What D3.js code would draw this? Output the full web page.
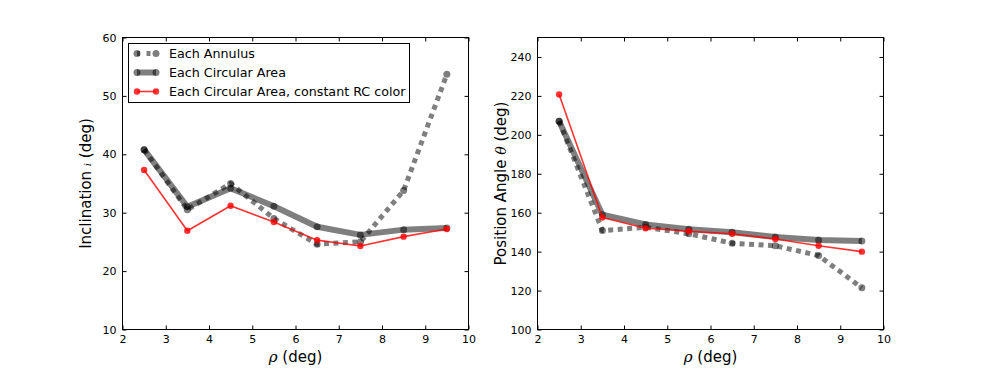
<!DOCTYPE html>
<html>
<head>
<meta charset="utf-8">
<script src="https://cdn.jsdelivr.net/npm/d3@7"></script>
<style>
  body { margin: 0; background: #fff; }
  svg { font-family: "DejaVu Sans", sans-serif; }
</style>
</head>
<body>
<div id="chart"></div>
<script>
// radius bins (deg)
const rho = [2.5, 3.5, 4.5, 5.5, 6.5, 7.5, 8.5, 9.5];

// inclination (deg)
const incAnnulus  = [40.8, 30.5, 35.0, 29.0, 24.6, 25.0, 33.8, 53.7];
const incCircular = [40.8, 31.0, 34.2, 31.1, 27.6, 26.2, 27.1, 27.4];
const incConstRC  = [37.3, 26.9, 31.2, 28.4, 25.3, 24.3, 25.9, 27.2];

// position angle (deg)
const paAnnulus  = [207.0, 150.8, 152.5, 149.2, 144.3, 143.0, 138.0, 121.4];
const paCircular = [207.0, 159.0, 154.0, 151.5, 150.0, 147.5, 146.0, 145.5];
const paConstRC  = [220.7, 157.5, 152.0, 150.5, 149.2, 146.5, 143.0, 140.0];

const xTicks = [2, 3, 4, 5, 6, 7, 8, 9, 10];
const incTicks = [10, 20, 30, 40, 50, 60];
const paTicks = [100, 120, 140, 160, 180, 200, 220, 240];

const legendLabels = ["Each Annulus", "Each Circular Area", "Each Circular Area, constant RC color"];

const W = 981, H = 377;
const svg = d3.select("#chart").append("svg").attr("width", W).attr("height", H);

const styles = [
  {color: "#000", opacity: 0.5, width: 5, dash: "5,4.5", mfill: "#000", mop: 0.5, r: 3.5},
  {color: "#000", opacity: 0.5, width: 6, dash: null, mfill: "#000", mop: 0.5, r: 3.5},
  {color: "#ff0000", opacity: 0.8, width: 1.6, dash: null, mfill: "#ff0000", mop: 0.8, r: 3.2}
];

function drawPanel(opts) {
  const g = svg.append("g");
  const x = d3.scaleLinear().domain([2, 10]).range([opts.left, opts.right]);
  const y = d3.scaleLinear().domain(opts.yDomain).range([opts.bottom, opts.top]);

  const series = [opts.annulus, opts.circular, opts.constRC];
  series.forEach((vals, i) => {
    const s = styles[i];
    const pts = rho.map((r, j) => [r, vals[j]]);
    g.append("path")
      .datum(pts)
      .attr("d", d3.line().x(d => x(d[0])).y(d => y(d[1])))
      .attr("fill", "none")
      .attr("stroke", s.color)
      .attr("stroke-opacity", s.opacity)
      .attr("stroke-width", s.width)
      .attr("stroke-dasharray", s.dash)
      .attr("stroke-linejoin", "round");
    g.selectAll(null).data(pts).enter().append("circle")
      .attr("cx", d => x(d[0]))
      .attr("cy", d => y(d[1]))
      .attr("r", s.r)
      .attr("fill", s.mfill)
      .attr("fill-opacity", s.mop);
  });

  // frame
  g.append("rect")
    .attr("x", opts.left).attr("y", opts.top)
    .attr("width", opts.right - opts.left).attr("height", opts.bottom - opts.top)
    .attr("fill", "none").attr("stroke", "#000").attr("stroke-width", 1);

  // axes, ticks pointing inward on all sides
  const axB = g.append("g").attr("transform", `translate(0,${opts.bottom})`)
    .call(d3.axisBottom(x).tickValues(xTicks).tickFormat(d3.format("d")).tickSizeInner(-4).tickSizeOuter(0).tickPadding(6));
  const axT = g.append("g").attr("transform", `translate(0,${opts.top})`)
    .call(d3.axisTop(x).tickValues(xTicks).tickFormat("").tickSizeInner(-4).tickSizeOuter(0));
  const axL = g.append("g").attr("transform", `translate(${opts.left},0)`)
    .call(d3.axisLeft(y).tickValues(opts.yTicks).tickFormat(d3.format("d")).tickSizeInner(-4).tickSizeOuter(0).tickPadding(6));
  const axR = g.append("g").attr("transform", `translate(${opts.right},0)`)
    .call(d3.axisRight(y).tickValues(opts.yTicks).tickFormat("").tickSizeInner(-4).tickSizeOuter(0));
  [axB, axT, axL, axR].forEach(a => {
    a.select(".domain").remove();
    a.selectAll("line").attr("stroke", "#000");
    a.selectAll("text").attr("font-size", 11).attr("fill", "#000")
      .attr("font-family", "DejaVu Sans, sans-serif");
  });

  // x label
  const xl = g.append("text")
    .attr("x", (opts.left + opts.right) / 2).attr("y", opts.bottom + 32)
    .attr("text-anchor", "middle").attr("font-size", 15);
  xl.append("tspan").attr("font-family", "DejaVu Serif, serif").attr("font-style", "italic").text("ρ");
  xl.append("tspan").text(" (deg)");

  // y label
  const yl = g.append("text")
    .attr("transform", `translate(${opts.left - 32},${(opts.top + opts.bottom) / 2}) rotate(-90)`)
    .attr("text-anchor", "middle").attr("font-size", 15);
  yl.append("tspan").text(opts.yLabel[0]);
  yl.append("tspan").attr("font-family", "DejaVu Serif, serif").attr("font-style", "italic")
    .attr("font-size", opts.yLabel[2]).text(opts.yLabel[1]);
  yl.append("tspan").attr("font-size", 15).text(" (deg)");

  return {x, y, g};
}

drawPanel({
  left: 122.5, right: 468.5, top: 37.5, bottom: 329.5,
  yDomain: [10, 60], yTicks: incTicks,
  annulus: incAnnulus, circular: incCircular, constRC: incConstRC,
  yLabel: ["Inclination ", "i", 10]
});

drawPanel({
  left: 537.5, right: 883.5, top: 37.5, bottom: 329.5,
  yDomain: [100, 250], yTicks: paTicks,
  annulus: paAnnulus, circular: paCircular, constRC: paConstRC,
  yLabel: ["Position Angle ", "θ", 14]
});

// legend in left panel
const lg = svg.append("g");
lg.append("rect")
  .attr("x", 128.5).attr("y", 43.5).attr("width", 281).attr("height", 59)
  .attr("fill", "#fff").attr("stroke", "#000").attr("stroke-width", 1);
legendLabels.forEach((lab, i) => {
  const s = styles[i];
  const yy = 53.5 + i * 19;
  lg.append("line")
    .attr("x1", 137).attr("x2", 156).attr("y1", yy).attr("y2", yy)
    .attr("stroke", s.color).attr("stroke-opacity", s.opacity)
    .attr("stroke-width", s.width).attr("stroke-dasharray", i === 0 ? "3,6.5,4,6" : null);
  [137, 156].forEach(cx => {
    lg.append("circle").attr("cx", cx).attr("cy", yy).attr("r", s.r)
      .attr("fill", s.mfill).attr("fill-opacity", s.mop);
  });
  lg.append("text").attr("x", 169).attr("y", yy + 4.5)
    .attr("font-size", 12.7).text(lab);
});
</script>
</body>
</html>
